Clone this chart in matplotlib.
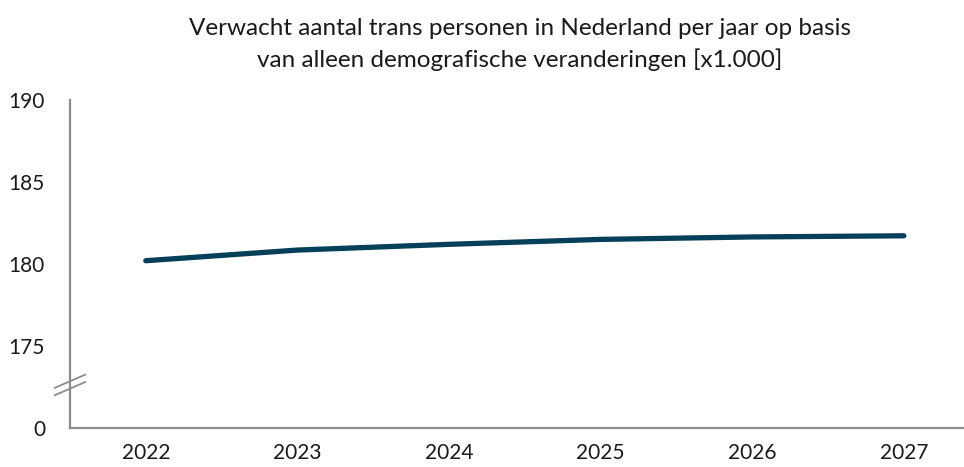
import matplotlib
matplotlib.use('Agg')
import matplotlib.pyplot as plt

# data
years = ['2022', '2023', '2024', '2025', '2026', '2027']
aantal = [180.2, 180.85, 181.2, 181.5, 181.65, 181.72]
yticks = [170, 175, 180, 185, 190]
ytick_labels = ['0', '175', '180', '185', '190']

plt.rcParams['font.family'] = ['Lato', 'DejaVu Sans']

fig = plt.figure(figsize=(9.64, 4.67), dpi=100)
ax = fig.add_axes([70 / 964, 1 - 428 / 467, 893 / 964, 328 / 467])

x = list(range(len(years)))
ax.plot(x, aantal, color='#063f5a', linewidth=3.8, solid_capstyle='round')

ax.set_xlim(-0.5, 5.39)
ax.set_ylim(170, 190)
ax.set_xticks(x)
ax.set_xticklabels(years)
ax.set_yticks(yticks)
ax.set_yticklabels(ytick_labels)
ax.tick_params(axis='both', length=0, labelsize=15, colors='#1a1a1a')
ax.tick_params(axis='x', pad=11)
ax.tick_params(axis='y', pad=18)

for s in ['top', 'right']:
	ax.spines[s].set_visible(False)
for s in ['left', 'bottom']:
	ax.spines[s].set_color('#8c8c8c')
	ax.spines[s].set_linewidth(1.6)

# axis break marks
for dy in [0, 0.45]:
	ax.plot([-0.6, -0.4], [172.0 + dy, 172.8 + dy], color='#8c8c8c', linewidth=1.3,
			clip_on=False, transform=ax.transData)

fig.text(0.539, 0.94, 'Verwacht aantal trans personen in Nederland per jaar op basis',
		 ha='center', va='center', fontsize=17.5, color='#1a1a1a')
fig.text(0.539, 0.872, 'van alleen demografische veranderingen [x1.000]',
		 ha='center', va='center', fontsize=17.5, color='#1a1a1a')

plt.savefig('out.png', dpi=100)
plt.close()
